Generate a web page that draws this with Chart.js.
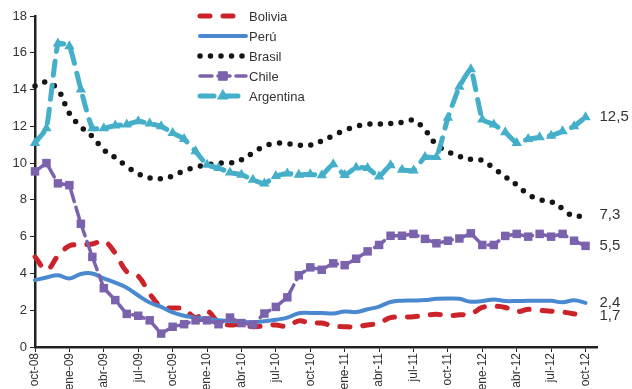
<!DOCTYPE html>
<html>
<head>
<meta charset="utf-8">
<script src="https://cdn.jsdelivr.net/npm/chart.js@4"></script>
<style>
  html, body { margin: 0; padding: 0; background: #fff; }
  #wrap { width: 632px; height: 389px; overflow: hidden; }
  #box { width: 632px; height: 400px; }
</style>
</head>
<body>
<div id="wrap"><div id="box"><canvas id="chart"></canvas></div></div>
<script>
// months, last one empty so the axis runs a bit past oct-12
const months = ['oct-08','nov-08','dic-08','ene-09','feb-09','mar-09','abr-09','may-09','jun-09','jul-09','ago-09','sep-09',
    'oct-09','nov-09','dic-09','ene-10','feb-10','mar-10','abr-10','may-10','jun-10','jul-10','ago-10','sep-10',
    'oct-10','nov-10','dic-10','ene-11','feb-11','mar-11','abr-11','may-11','jun-11','jul-11','ago-11','sep-11',
    'oct-11','nov-11','dic-11','ene-12','feb-12','mar-12','abr-12','may-12','jun-12','jul-12','ago-12','sep-12',
    'oct-12',''];

const bolivia = [4.9, 4.2, 4.95, 5.5, 5.55, 5.6, 5.75, 5.1, 4.1, 3.85, 2.9, 2.2, 2.12, 2.08, 1.6, 1.95, 1.35, 1.2, 1.25, 1.1,
    1.15, 1.2, 1.12, 1.42, 1.3, 1.3, 1.15, 1.1, 1.1, 1.2, 1.3, 1.6, 1.62, 1.65, 1.72, 1.78, 1.7, 1.75, 1.8, 2.15,
    2.22, 2.15, 1.92, 2.05, 2.0, 1.95, 1.9, 1.8, 1.67];
const peru = [3.64, 3.78, 3.9, 3.72, 3.97, 4.0, 3.73, 3.5, 3.22, 2.8, 2.42, 2.18, 1.88, 1.7, 1.6, 1.52, 1.46, 1.42, 1.38, 1.35,
    1.4, 1.48, 1.6, 1.84, 1.85, 1.85, 1.82, 1.93, 1.9, 2.05, 2.2, 2.45, 2.52, 2.53, 2.55, 2.62, 2.64, 2.62, 2.46, 2.5,
    2.58, 2.5, 2.5, 2.51, 2.51, 2.51, 2.43, 2.54, 2.4];
const brasil = [14.2, 14.4, 14.0, 12.7, 11.98, 11.45, 10.72, 10.3, 9.82, 9.42, 9.2, 9.15, 9.3, 9.58, 9.78, 9.9, 10.0, 10.0, 10.18, 10.55,
    10.92, 11.08, 11.05, 10.97, 10.98, 11.2, 11.5, 11.78, 11.99, 12.12, 12.13, 12.15, 12.22, 12.33, 11.8, 11.0, 10.62, 10.37, 10.21, 10.14,
    9.72, 9.25, 8.82, 8.3, 8.02, 7.9, 7.52, 7.1, 7.2];
const chile = [9.55, 10.0, 8.9, 8.8, 6.7, 4.9, 3.2, 2.55, 1.8, 1.7, 1.45, 0.73, 1.1, 1.24, 1.45, 1.45, 1.24, 1.6, 1.3, 1.22,
    1.82, 2.18, 2.7, 3.9, 4.33, 4.2, 4.55, 4.45, 4.8, 5.2, 5.55, 6.05, 6.05, 6.15, 5.88, 5.64, 5.78, 5.9, 6.18, 5.55,
    5.55, 6.04, 6.15, 6.0, 6.15, 6.0, 6.15, 5.78, 5.5];
const argentina = [11.1, 11.9, 16.5, 16.35, 14.0, 11.9, 11.9, 12.04, 12.1, 12.27, 12.15, 12.0, 11.64, 11.31, 10.64, 9.91, 9.73, 9.49, 9.37, 9.09,
    8.89, 9.3, 9.44, 9.37, 9.4, 9.34, 9.94, 9.35, 9.76, 9.73, 9.27, 9.89, 9.64, 9.6, 10.33, 10.33, 12.46, 14.15, 15.1, 12.37,
    12.1, 11.68, 11.1, 11.31, 11.4, 11.49, 11.73, 12.0, 12.5];

// labels shown at the right end of each series
const endLabels = ['1,7', '2,4', '7,3', '5,5', '12,5'];
const yTicks = [0, 2, 4, 6, 8, 10, 12, 14, 16, 18];

const FONT = "'Liberation Sans', Arial, sans-serif";
const TEXT = '#333';

// legend drawn inside the plot, top middle
const legendPlugin = {
    id: 'insideLegend',
    afterDatasetsDraw(chart) {
        const ctx = chart.ctx;
        const x0 = 200, x1 = 246, textX = 249;
        const rows = [16, 36, 56, 76, 96];
        chart.data.datasets.forEach((ds, i) => {
            const y = rows[i];
            ctx.save();
            ctx.strokeStyle = ds.borderColor;
            ctx.lineWidth = ds.borderWidth;
            ctx.lineCap = 'round';
            ctx.setLineDash(ds.borderDash || []);
            ctx.beginPath();
            ctx.moveTo(x0, y);
            ctx.lineTo(x1, y);
            ctx.stroke();
            ctx.setLineDash([]);
            if (ds.pointRadius > 0) {
                ctx.fillStyle = ds.borderColor;
                ctx.lineWidth = 1;
                Chart.helpers.drawPoint(ctx, {
                    pointStyle: ds.pointStyle,
                    radius: ds.pointRadius,
                    borderWidth: 1,
                    rotation: 0
                }, (x0 + x1) / 2, y);
            }
            ctx.fillStyle = TEXT;
            ctx.font = '13px ' + FONT;
            ctx.textBaseline = 'middle';
            ctx.fillText(ds.label, textX, y + 1);
            ctx.restore();
        });
    }
};

// value labels after the last point
const endLabelPlugin = {
    id: 'endLabels',
    afterDatasetsDraw(chart) {
        const ctx = chart.ctx;
        const xs = chart.scales.x, ys = chart.scales.y;
        ctx.save();
        ctx.font = '15px ' + FONT;
        ctx.fillStyle = TEXT;
        ctx.textBaseline = 'middle';
        chart.data.datasets.forEach((ds, i) => {
            const last = ds.data.length - 1;
            ctx.fillText(endLabels[i], xs.getPixelForValue(last) + 14, ys.getPixelForValue(ds.data[last]));
        });
        ctx.restore();
    }
};

const ctx = document.getElementById('chart').getContext('2d');
new Chart(ctx, {
    type: 'line',
    data: {
        labels: months,
        datasets: [
            {
                label: 'Bolivia', data: bolivia, order: 5,
                borderColor: '#cc2229', borderWidth: 5, borderDash: [10, 13], borderCapStyle: 'round',
                pointRadius: 0, tension: 0.4
            },
            {
                label: 'Perú', data: peru, order: 4,
                borderColor: '#4a89cf', borderWidth: 4, borderCapStyle: 'round',
                pointRadius: 0, tension: 0.4
            },
            {
                label: 'Brasil', data: brasil, order: 3,
                borderColor: '#151515', borderWidth: 5.5, borderDash: [0, 10.5], borderCapStyle: 'round',
                pointRadius: 0, tension: 0.4
            },
            {
                label: 'Chile', data: chile, order: 2,
                borderColor: '#7a62ad', backgroundColor: '#7a62ad', borderWidth: 3.5, borderDash: [12, 6],
                borderCapStyle: 'round', pointStyle: 'rect', pointRadius: 6, pointBorderWidth: 0,
                pointBackgroundColor: '#7a62ad', tension: 0
            },
            {
                label: 'Argentina', data: argentina, order: 1,
                borderColor: '#45afc9', backgroundColor: '#45afc9', borderWidth: 5, borderDash: [14, 10],
                borderCapStyle: 'round', pointStyle: 'triangle', pointRadius: 6, pointBorderWidth: 0,
                pointBackgroundColor: '#45afc9', tension: 0.15
            }
        ]
    },
    options: {
        responsive: true,
        maintainAspectRatio: false,
        animation: false,
        clip: false,
        layout: { padding: { top: 16, right: 35, left: 0, bottom: 0 } },
        plugins: {
            legend: { display: false },
            tooltip: { enabled: false }
        },
        scales: {
            x: {
                afterFit(scale) { scale.height = 53; },
                grid: {
                    drawOnChartArea: false,
                    drawTicks: true,
                    tickLength: 5,
                    tickWidth: 1,
                    tickColor: c => (c.index % 3 === 0 && c.index < 49) ? '#222' : 'rgba(0,0,0,0)'
                },
                border: { color: '#222', width: 2.5 },
                ticks: {
                    autoSkip: false,
                    maxRotation: 90,
                    minRotation: 90,
                    padding: 1,
                    color: TEXT,
                    font: { family: FONT, size: 12 },
                    callback: (v, i) => (i % 3 === 0 ? months[i] : '')
                }
            },
            y: {
                min: yTicks[0],
                max: yTicks[yTicks.length - 1],
                afterFit(scale) { scale.width = 35; },
                afterBuildTicks(scale) { scale.ticks = yTicks.map(v => ({ value: v })); },
                grid: {
                    drawOnChartArea: false,
                    drawTicks: true,
                    tickLength: 5,
                    tickColor: '#222'
                },
                border: { color: '#222', width: 2.5 },
                ticks: {
                    padding: 3,
                    color: TEXT,
                    font: { family: FONT, size: 13 }
                }
            }
        }
    },
    plugins: [legendPlugin, endLabelPlugin]
});
</script>
</body>
</html>
